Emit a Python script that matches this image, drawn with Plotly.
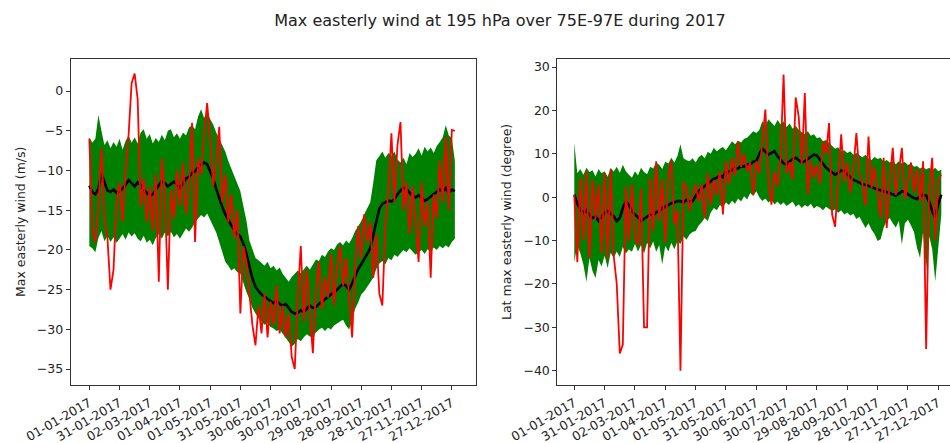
import pandas as pd
import plotly.graph_objects as go

# ---------------- data (sampled every 3 days from 2017-01-01) ----------------
start = pd.Timestamp("2017-01-01")

left_mean = [-11.9, -12.7, -13.0, -12.3, -10.4, -11.5, -12.5, -12.7, -12.4, -12.8, -12.6, -12.3, -11.8, -11.2, -11.6, -12.0,
             -11.5, -11.8, -12.4, -12.8, -13.2, -13.0, -12.4, -11.8, -11.3, -11.6, -12.0, -11.7, -11.4, -11.8, -12.2, -11.6,
             -11.0, -10.8, -10.3, -10.1, -9.6, -9.3, -9.0, -9.2, -10.0, -11.0, -12.3, -13.5, -14.6, -15.5, -16.3, -16.9,
             -17.5, -18.0, -18.3, -19.2, -20.5, -22.0, -23.6, -24.6, -25.2, -25.6, -25.9, -26.2, -26.5, -26.7, -26.4, -26.8,
             -27.0, -26.8, -27.3, -27.8, -28.0, -27.9, -27.6, -27.8, -27.4, -27.0, -27.3, -27.2, -26.8, -26.5, -26.2, -26.0,
             -25.6, -25.3, -25.0, -24.6, -24.3, -24.5, -25.0, -24.2, -23.2, -22.4, -21.8, -21.2, -20.5, -19.8, -18.0, -16.2,
             -14.8, -14.2, -14.0, -13.8, -13.9, -13.6, -13.0, -12.5, -12.2, -12.3, -12.8, -13.2, -13.4, -13.1, -13.5, -13.8,
             -13.6, -13.3, -12.9, -12.7, -12.4, -12.6, -12.2, -12.8, -12.4, -12.6]

left_upper = [-5.8, -6.5, -6.0, -3.0, -5.0, -6.8, -6.2, -7.2, -6.4, -7.0, -6.0, -7.4, -6.3, -5.6, -6.5, -5.8,
              -6.6, -5.2, -4.8, -6.0, -5.4, -6.6, -5.9, -6.4, -5.5, -6.2, -5.0, -4.8, -5.8, -5.3, -6.0, -5.2,
              -5.6, -4.6, -4.3, -4.8, -3.2, -2.3, -3.4, -2.6, -3.5, -4.2, -5.2, -6.0, -6.8, -7.6, -8.8, -9.8,
              -10.8, -11.6, -12.6, -14.5, -16.3, -18.8, -20.0, -21.0, -21.3, -21.6, -22.0, -21.5, -22.3, -22.0, -22.6, -22.2,
              -23.0, -23.5, -24.0, -23.4, -23.0, -22.6, -22.9, -22.4, -22.0, -22.5, -21.8, -21.2, -21.4, -20.6, -20.9, -20.2,
              -19.8, -20.0, -19.3, -19.0, -19.4, -18.8, -19.2, -18.5, -17.6, -17.0, -16.4, -15.5, -14.8, -14.0, -11.5, -8.7,
              -8.2, -7.6, -8.4, -7.8, -8.2, -7.6, -8.6, -9.0, -8.4, -9.2, -7.8, -8.3, -7.9, -7.2, -8.1, -7.0,
              -7.6, -7.1, -7.8, -6.9, -6.4, -5.8, -4.3, -5.6, -5.9, -8.8]

left_lower = [-19.5, -19.8, -20.3, -18.5, -17.6, -18.9, -18.2, -19.0, -18.4, -19.1, -18.6, -18.0, -18.7, -17.8, -18.3, -17.9,
              -18.6, -18.9, -18.2, -19.1, -18.7, -19.4, -18.5, -18.0, -18.6, -17.8, -18.3, -17.7, -18.4, -18.0, -18.6, -17.9,
              -17.3, -17.7, -17.2, -16.5, -16.0, -15.6, -15.9, -15.4, -16.2, -17.0, -17.8, -19.0, -20.4, -21.5, -22.0, -22.6,
              -22.3, -22.8, -23.0, -24.2, -25.3, -26.2, -27.3, -28.0, -28.6, -29.0, -29.4, -29.2, -29.7, -29.9, -30.2, -30.0,
              -30.5, -31.0, -31.6, -32.2, -31.8, -31.2, -31.5, -31.0, -30.6, -30.9, -31.0, -30.4, -30.0, -29.8, -30.2, -29.8,
              -30.0, -29.5, -29.2, -29.0, -28.8, -29.5, -30.0, -28.7, -27.4, -26.6, -25.6, -25.2, -24.6, -24.0, -23.5, -22.4,
              -21.7, -21.4, -21.8, -21.0, -21.3, -20.6, -20.9, -20.4, -20.0, -20.3, -19.8, -20.2, -20.6, -20.3, -20.0, -20.5,
              -19.9, -20.2, -19.7, -20.0, -19.5, -19.8, -19.4, -19.7, -19.0, -18.6]

left_obs = [-6.0, -17.5, -19.0, -14.5, -7.2, -16.0, -18.5, -25.0, -22.5, -14.0, -11.5, -16.5, -10.0, -5.5, 1.0, 2.2,
            -1.0, -14.5, -11.0, -16.5, -12.0, -17.5, -10.5, -24.0, -8.5, -13.0, -25.0, -12.5, -16.0, -10.0, -14.5, -9.0,
            -15.5, -12.0, -4.0, -19.0, -8.5, -10.5, -5.5, -1.5, -6.0, -12.0, -9.0, -4.5, -14.0, -10.5, -16.5, -13.0,
            -18.5, -15.0, -28.0, -19.5, -21.5, -26.0, -29.5, -32.0, -27.0, -30.5, -25.5, -31.0, -26.5, -29.5, -24.5, -30.5,
            -27.0, -31.0, -28.0, -33.5, -35.0, -26.0, -19.5, -29.0, -22.5, -28.0, -33.0, -25.0, -21.5, -27.5, -23.5, -26.0,
            -20.5, -27.0, -22.0, -19.5, -24.5, -21.0, -26.5, -31.0, -22.0, -17.0, -21.0, -15.5, -19.0, -16.5, -23.5, -18.0,
            -25.5, -27.0, -17.0, -12.5, -5.3, -14.0, -6.8, -3.9, -15.0, -11.5, -18.0, -12.0, -16.5, -21.5, -11.5, -17.0,
            -14.0, -23.5, -13.0, -16.0, -8.7, -14.0, -5.8, -15.0, -4.9, -5.0]

right_mean = [0.6, -1.5, -2.8, -3.6, -3.0, -4.2, -4.8, -4.4, -5.5, -4.6, -3.6, -3.2, -3.8, -4.4, -5.5, -4.8,
              -2.5, -1.0, -1.8, -3.2, -4.0, -4.6, -5.5, -5.0, -4.4, -4.0, -4.2, -3.5, -3.2, -2.5, -2.2, -1.7,
              -1.4, -1.2, -0.9, -0.9, -1.2, -0.6, -1.0, -0.9, 0.2, 1.4, 2.0, 2.6, 3.0, 3.6, 4.2, 4.5,
              5.0, 4.6, 6.0, 5.8, 6.4, 6.8, 6.6, 7.2, 7.0, 7.6, 7.5, 8.2, 8.3, 10.0, 11.2, 10.6,
              9.8, 10.2, 10.6, 9.5, 8.6, 7.8, 7.5, 8.3, 8.8, 9.1, 8.5, 8.0, 8.3, 8.8, 9.4, 9.8,
              9.6, 8.6, 7.6, 6.8, 6.2, 5.6, 5.2, 5.6, 6.2, 6.0, 5.4, 4.6, 4.0, 3.7, 3.4, 3.0,
              2.9, 2.6, 2.3, 2.1, 1.8, 1.6, 1.4, 1.3, 1.0, 0.6, 0.4, 0.8, 1.4, 1.2, 0.6, 0.2,
              -0.2, -0.4, 0.2, 0.6, 0.4, -1.0, -3.2, -4.8, -1.5, 0.6]

right_upper = [12.5, 5.5, 6.5, 5.2, 6.8, 5.8, 6.2, 4.8, 6.5, 5.5, 6.0, 4.7, 6.8, 5.9, 7.0, 5.6,
               7.5, 6.0, 5.2, 4.5, 6.0, 5.0, 6.8, 5.8, 5.3, 7.0, 6.6, 8.0, 7.5, 6.5, 8.2, 7.8,
               9.1, 8.0, 9.5, 12.2, 9.0, 8.5, 8.3, 9.0, 8.0, 9.2, 9.8, 9.0, 10.5, 10.0, 11.4, 10.6,
               11.2, 11.6, 10.8, 12.0, 12.9, 12.2, 13.0, 12.6, 13.5, 13.7, 14.5, 15.2, 14.8, 15.5, 17.5, 16.5,
               18.0, 17.2, 16.4, 17.8, 16.8, 17.5, 16.2, 17.0, 15.8, 16.5, 15.5, 15.0, 14.6, 15.2, 14.2, 14.5,
               13.6, 13.8, 12.9, 13.2, 12.5, 11.8, 11.2, 11.5, 10.6, 10.8, 10.2, 10.6, 9.8, 10.2, 9.6, 9.2,
               9.8, 9.0, 8.6, 9.3, 8.8, 9.1, 8.2, 8.6, 8.0, 8.4, 7.6, 8.3, 7.8, 8.1, 7.4, 7.8,
               7.0, 7.2, 6.6, 7.0, 6.4, 6.8, 6.2, 6.8, 6.0, 6.4]

right_lower = [-15.0, -11.0, -13.0, -15.5, -19.5, -14.0, -17.0, -18.6, -14.5, -16.0, -13.5, -16.3, -12.8, -14.0, -12.5, -13.8,
               -11.5, -13.0, -12.0, -12.6, -10.8, -12.5, -11.0, -13.0, -10.5, -11.8, -10.2, -12.6, -11.0, -15.5, -11.2, -12.5,
               -10.5, -12.0, -10.2, -10.8, -9.0, -9.8, -8.6, -8.0, -7.8, -6.5, -5.8, -4.8, -5.5, -3.5, -2.5, -3.0,
               -1.8, -2.4, -1.2, -1.8, -0.8, -1.5, -0.3, -1.0, 0.2, -0.5, 1.0, 0.3, 1.4, 0.0, -0.9, -0.3,
               -1.2, -0.6, -1.7, -1.0, -1.8, -1.2, -2.0, -1.5, -1.0, -2.2, -1.6, -2.5, -1.8, -2.2, -1.5, -2.6,
               -2.0, -2.4, -3.0, -2.2, -2.8, -3.2, -2.8, -3.6, -3.0, -4.0, -3.5, -4.2, -3.8, -5.0, -4.5, -6.0,
               -7.1, -6.0, -7.5, -8.5, -10.1, -9.7, -7.0, -5.5, -4.8, -6.0, -7.0, -5.5, -10.9, -6.0, -5.2, -6.5,
               -8.0, -11.7, -14.0, -8.0, -17.1, -9.0, -12.0, -19.4, -12.5, -4.0]

right_obs = [0.5, -15.0, 4.5, -10.0, 6.0, -14.0, 4.0, -5.0, 3.0, -13.0, 5.5, -14.0, 6.4, -13.5, -20.0, -36.0,
             -34.0, 2.5, -10.0, 3.0, -9.0, -11.0, 2.0, -30.0, -30.0, 4.5, -7.8, 8.3, -5.5, 4.0, -10.5, 5.0,
             8.3, -6.3, -3.0, -40.0, 3.5, 2.0, -3.2, 1.0, 2.9, -1.0, 3.0, -4.8, 5.5, -1.7, 4.0, 0.5,
             6.0, -4.0, 8.3, 3.0, 9.0, 5.0, 12.9, 7.0, 10.0, 6.0, 8.0, 0.6, 8.3, 5.5, 13.0, 20.2,
             4.0, -1.7, 6.0, 2.5, 9.0, 28.3, 5.5, 8.0, 4.0, 23.0, 18.5, 7.5, 24.0, 0.6, 8.3, 4.5,
             7.5, 3.0, 12.9, 10.0, 17.1, -4.0, -6.8, 5.0, 14.5, 3.5, 8.0, 1.0, 6.5, 14.8, 5.5, 3.0,
             -2.0, 14.0, 2.0, 7.0, 1.5, -4.8, 9.1, -7.1, 4.0, 11.4, 0.5, 6.0, 11.4, -0.5, 4.0, 8.0,
             1.0, 6.5, -1.0, 8.3, -35.0, 2.0, 9.1, -10.0, 4.0, 5.2]

tick_dates = ["2017-01-01", "2017-01-31", "2017-03-02", "2017-04-01", "2017-05-01", "2017-05-31", "2017-06-30",
              "2017-07-30", "2017-08-29", "2017-09-28", "2017-10-28", "2017-11-27", "2017-12-27"]
tick_text = ["01-01-2017", "31-01-2017", "02-03-2017", "01-04-2017", "01-05-2017", "31-05-2017", "30-06-2017",
             "30-07-2017", "29-08-2017", "28-09-2017", "28-10-2017", "27-11-2017", "27-12-2017"]

left_yticks = [-35, -30, -25, -20, -15, -10, -5, 0]
right_yticks = [-40, -30, -20, -10, 0, 10, 20, 30]


def dates_for(series):
    return pd.date_range(start, periods=len(series), freq="3D")


def fmt(v):
    return str(v).replace("-", "\u2212")


def ts(days):
    return (start + pd.Timedelta(days=days)).strftime("%Y-%m-%d %H:%M:%S")


fig = go.Figure()

W, H = 950, 443
x1 = [70.7 / W, 476 / W]
x2 = [557.3 / W, 1.0]
ydom = [1 - 385 / H, 1 - 59.3 / H]

for (lo, up, mn, ob, xa, ya) in [(left_lower, left_upper, left_mean, left_obs, "x", "y"),
                                 (right_lower, right_upper, right_mean, right_obs, "x2", "y2")]:
    fig.add_trace(go.Scatter(x=dates_for(lo), y=lo, mode="lines", line=dict(width=0, color="green"),
                             showlegend=False, xaxis=xa, yaxis=ya, hoverinfo="skip"))
    fig.add_trace(go.Scatter(x=dates_for(up), y=up, mode="lines", line=dict(width=0, color="green"),
                             fill="tonexty", fillcolor="green", showlegend=False, xaxis=xa, yaxis=ya,
                             hoverinfo="skip"))
    fig.add_trace(go.Scatter(x=dates_for(mn), y=mn, mode="lines", line=dict(width=2.6, color="black"),
                             showlegend=False, xaxis=xa, yaxis=ya))
    fig.add_trace(go.Scatter(x=dates_for(ob), y=ob, mode="lines", line=dict(width=1.8, color="red"),
                             showlegend=False, xaxis=xa, yaxis=ya))

tickfont = dict(family="DejaVu Sans", size=12.5, color="#222")
common_x = dict(type="date", tickmode="array", tickvals=tick_dates, ticktext=tick_text, tickangle=-30,
                ticks="outside", ticklen=4, tickcolor="#333", showgrid=False, zeroline=False,
                showline=True, linecolor="#333", linewidth=1, mirror=True, tickfont=tickfont,
                ticklabelstandoff=1, automargin=False)

fig.update_layout(
    width=W, height=H,
    margin=dict(l=0, r=0, t=0, b=0),
    paper_bgcolor="white", plot_bgcolor="white",
    showlegend=False,
    title=dict(text="Max easterly wind at 195 hPa over 75E-97E during 2017",
               x=500 / W, xanchor="center", y=1 - 20.5 / H, yanchor="middle",
               font=dict(family="DejaVu Sans", size=16, color="#222")),
    xaxis=dict(domain=x1, range=[ts(-18.5), ts(384)], anchor="y", **common_x),
    xaxis2=dict(domain=x2, range=[ts(-16.8), ts(371.6)], anchor="y2", **common_x),
    yaxis=dict(domain=ydom, range=[-37, 4], tickmode="array", tickvals=left_yticks,
               ticktext=[fmt(v) for v in left_yticks], ticks="outside", ticklen=4, tickcolor="#333",
               showgrid=False, zeroline=False, showline=True, linecolor="#333", linewidth=1, mirror=True,
               tickfont=tickfont, automargin=False, anchor="x"),
    yaxis2=dict(domain=ydom, range=[-43.3, 31.8], tickmode="array", tickvals=right_yticks,
                ticktext=[fmt(v) for v in right_yticks], ticks="outside", ticklen=4, tickcolor="#333",
                showgrid=False, zeroline=False, showline=True, linecolor="#333", linewidth=1, mirror=False,
                tickfont=tickfont, automargin=False, anchor="x2"),
    annotations=[
        dict(text="Max easterly wind (m/s)", textangle=-90, x=20 / W, y=1 - 222 / H, xref="paper",
             yref="paper", showarrow=False, xanchor="center", yanchor="middle",
             font=dict(family="DejaVu Sans", size=12.5, color="#222")),
        dict(text="Lat max easterly wind (degree)", textangle=-90, x=506 / W, y=1 - 222 / H, xref="paper",
             yref="paper", showarrow=False, xanchor="center", yanchor="middle",
             font=dict(family="DejaVu Sans", size=12.5, color="#222")),
    ],
)

fig.write_html("out.html", config={"displayModeBar": False},
               post_script="document.body.style.margin='0';document.body.style.overflow='hidden';")
